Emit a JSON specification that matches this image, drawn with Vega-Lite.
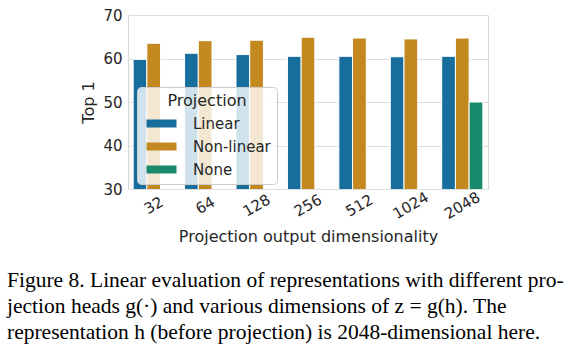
{
  "$schema": "https://vega.github.io/schema/vega-lite/v6.json",
  "width": 360,
  "height": 174,
  "autosize": {"type": "none"},
  "padding": {"left": 128, "top": 15, "right": 97, "bottom": 160},
  "background": "white",
  "title": {
    "text": [
      "Figure 8. Linear evaluation of representations with different pro-",
      "jection heads g(·) and various dimensions of z = g(h).  The",
      "representation h (before projection) is 2048-dimensional here."
    ],
    "orient": "bottom",
    "anchor": "start",
    "frame": "group",
    "dx": -121,
    "offset": 26,
    "font": "Liberation Serif",
    "fontSize": 21.5,
    "fontWeight": "normal",
    "color": "#000000",
    "lineHeight": 26
  },
  "data": {
    "values": [
      {"dim": "32", "proj": "Linear", "top1": 59.8},
      {"dim": "32", "proj": "Non-linear", "top1": 63.5},
      {"dim": "64", "proj": "Linear", "top1": 61.2},
      {"dim": "64", "proj": "Non-linear", "top1": 64.1},
      {"dim": "128", "proj": "Linear", "top1": 60.9},
      {"dim": "128", "proj": "Non-linear", "top1": 64.2},
      {"dim": "256", "proj": "Linear", "top1": 60.5},
      {"dim": "256", "proj": "Non-linear", "top1": 64.9},
      {"dim": "512", "proj": "Linear", "top1": 60.5},
      {"dim": "512", "proj": "Non-linear", "top1": 64.7},
      {"dim": "1024", "proj": "Linear", "top1": 60.4},
      {"dim": "1024", "proj": "Non-linear", "top1": 64.5},
      {"dim": "2048", "proj": "Linear", "top1": 60.5},
      {"dim": "2048", "proj": "Non-linear", "top1": 64.7},
      {"dim": "2048", "proj": "None", "top1": 50.0}
    ]
  },
  "mark": {"type": "bar", "stroke": "#ffffff", "strokeWidth": 1, "clip": true},
  "encoding": {
    "x": {
      "field": "dim",
      "type": "nominal",
      "sort": ["32", "64", "128", "256", "512", "1024", "2048"],
      "scale": {"paddingInner": 0.2, "paddingOuter": 0.1},
      "axis": {
        "title": "Projection output dimensionality",
        "labelAngle": -30,
        "labelAlign": "center",
        "labelBaseline": "middle",
        "labelPadding": 16,
        "titlePadding": 7,
        "grid": false,
        "ticks": false,
        "domain": false
      }
    },
    "xOffset": {
      "field": "proj",
      "type": "nominal",
      "scale": {"domain": ["Linear", "Non-linear", "None"]}
    },
    "y": {
      "field": "top1",
      "type": "quantitative",
      "scale": {"domain": [30, 70], "zero": false, "nice": false},
      "axis": {
        "title": "Top 1",
        "values": [30, 40, 50, 60, 70],
        "grid": true,
        "ticks": false,
        "domain": false,
        "labelPadding": 6,
        "titlePadding": 6
      }
    },
    "color": {
      "field": "proj",
      "type": "nominal",
      "scale": {
        "domain": ["Linear", "Non-linear", "None"],
        "range": ["#176d9c", "#c38820", "#168a6a"]
      },
      "legend": {
        "title": "Projection",
        "orient": "none",
        "legendX": 9,
        "legendY": 72,
        "padding": 6,
        "fillColor": "rgba(255,255,255,0.8)",
        "strokeColor": "#cccccc",
        "cornerRadius": 4,
        "titleAnchor": "middle",
        "titleFont": "DejaVu Sans",
        "titleFontSize": 16,
        "titleFontWeight": "normal",
        "titleColor": "#262626",
        "titlePadding": 7,
        "labelFont": "DejaVu Sans",
        "labelFontSize": 15,
        "labelColor": "#262626",
        "labelOffset": 35,
        "rowPadding": 7,
        "symbolType": "M-1,-1H6.5V1H-1Z",
        "symbolSize": 64,
        "symbolStrokeWidth": 0,
        "symbolOpacity": 1
      }
    }
  },
  "config": {
    "view": {"stroke": "#d6d6d6", "strokeWidth": 1},
    "axis": {
      "labelFont": "DejaVu Sans",
      "labelFontSize": 15,
      "labelColor": "#262626",
      "titleFont": "DejaVu Sans",
      "titleFontSize": 16,
      "titleFontWeight": "normal",
      "titleColor": "#262626",
      "gridColor": "#dedede",
      "gridWidth": 1
    }
  }
}
